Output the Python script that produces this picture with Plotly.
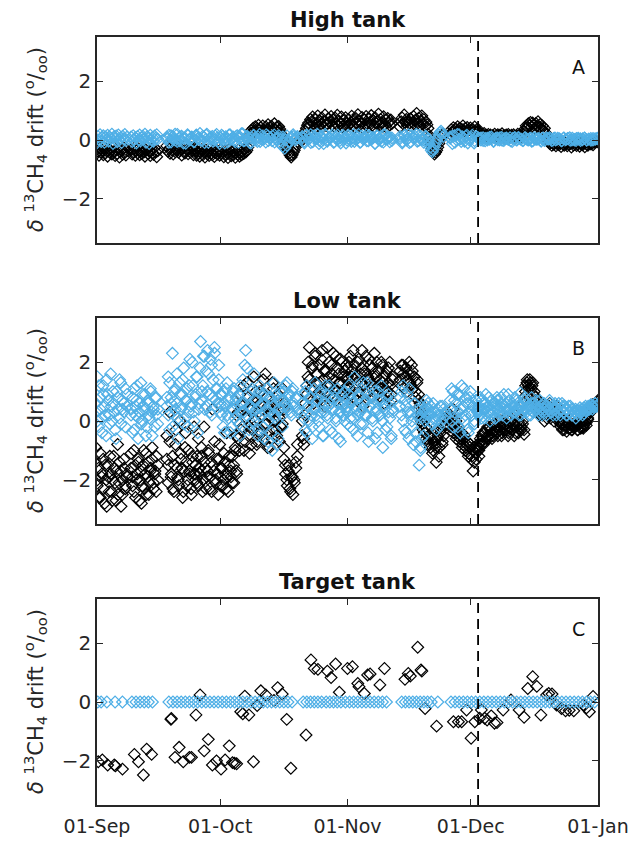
import numpy as np
import pandas as pd
import plotly.graph_objects as go

BASE = pd.Timestamp("2015-09-01")
END = pd.Timestamp("2016-01-01")
tick_dates = ["2015-09-01", "2015-10-01", "2015-11-01", "2015-12-01", "2016-01-01"]
tick_labels = ["01-Sep", "01-Oct", "01-Nov", "01-Dec", "01-Jan"]
event_day = 92.8  # dashed line (days after 01-Sep)

panel_titles = ["High tank", "Low tank", "Target tank"]
panel_letters = ["A", "B", "C"]

# ---- High tank: (start day, end day, drift values) ----
high_black = [
    (-0.3, 7.3, [-0.30, -0.45, -0.38, -0.52, -0.28, -0.41, -0.35, -0.50, -0.25, -0.44, -0.37, -0.55, -0.31, -0.42,
                 -0.36, -0.48, -0.22, -0.40, -0.53, -0.33, -0.46, -0.29, -0.58, -0.39, -0.34, -0.49, -0.27, -0.43,
                 -0.51, -0.36]),
    (8.3, 14.8, [-0.33, -0.48, -0.40, -0.27, -0.52, -0.36, -0.44, -0.30, -0.50, -0.39, -0.46, -0.29, -0.41, -0.55,
                 -0.35, -0.24, -0.47, -0.38, -0.53, -0.31, -0.43, -0.49, -0.26, -0.40, -0.57, -0.37]),
    (17.0, 24.0, [-0.20, -0.38, -0.30, -0.45, -0.25, -0.35, -0.48, -0.28, -0.40, -0.33, -0.22, -0.42, -0.36, -0.30,
                  -0.51, -0.27, -0.39, -0.44, -0.18, -0.34, -0.47, -0.31, -0.41, -0.26, -0.37, -0.50, -0.29, -0.35]),
    (24.0, 37.0, [-0.38, -0.52, -0.30, -0.45, -0.55, -0.40, -0.33, -0.50, -0.42, -0.58, -0.35, -0.47, -0.40, -0.53,
                  -0.30, -0.45, -0.50, -0.38, -0.56, -0.43, -0.35, -0.48, -0.40, -0.52, -0.33, -0.45, -0.41, -0.57,
                  -0.36, -0.49, -0.44, -0.60, -0.32, -0.46, -0.54, -0.39, -0.51, -0.37, -0.59, -0.42, -0.48, -0.34,
                  -0.55, -0.43, -0.50, -0.38, -0.46, -0.29, -0.41, -0.35, -0.25, -0.15]),
    (37.0, 44.5, [0.05, 0.20, 0.32, 0.25, 0.40, 0.30, 0.45, 0.28, 0.38, 0.50, 0.33, 0.42, 0.30, 0.48, 0.36, 0.26,
                  0.44, 0.35, 0.52, 0.29, 0.40, 0.47, 0.31, 0.39, 0.55, 0.34, 0.43, 0.28, 0.46, 0.37]),
    (44.5, 48.8, [0.30, 0.22, 0.12, 0.05, -0.05, -0.12, -0.22, -0.30, -0.38, -0.45, -0.52, -0.58, -0.50, -0.42,
                  -0.35, -0.25, -0.15, -0.05]),
    (50.0, 71.8, [0.0, 0.10, 0.20, 0.30, 0.40, 0.50, 0.58, 0.45, 0.70, 0.62, 0.78, 0.55, 0.40, 0.70, 0.58, 0.82,
                  0.48, 0.65, 0.53, 0.75, 0.44, 0.62, 0.85, 0.50, 0.57, 0.72, 0.42, 0.60, 0.80, 0.52, 0.68, 0.46,
                  0.74, 0.55, 0.84, 0.49, 0.63, 0.57, 0.78, 0.45, 0.66, 0.52, 0.76, 0.58, 0.47, 0.70, 0.54, 0.60,
                  0.81, 0.50, 0.67, 0.43, 0.73, 0.59, 0.86, 0.48, 0.64, 0.55, 0.77, 0.41, 0.69, 0.53, 0.80, 0.57,
                  0.46, 0.72, 0.61, 0.83, 0.50, 0.66, 0.44, 0.75, 0.56, 0.62, 0.88, 0.49, 0.70, 0.58, 0.45, 0.79,
                  0.54, 0.67, 0.42, 0.73, 0.60, 0.51, 0.68, 0.56]),
    (73.8, 80.6, [0.45, 0.62, 0.75, 0.55, 0.85, 0.60, 0.70, 0.50, 0.66, 0.58, 0.72, 0.48, 0.60, 0.80, 0.53, 0.68,
                  0.90, 0.57, 0.74, 0.49, 0.63, 0.82, 0.56, 0.69, 0.47, 0.61, 0.52, 0.40]),
    (80.6, 84.3, [0.20, 0.10, -0.05, -0.15, -0.28, -0.40, -0.48, -0.42, -0.35, -0.25, -0.12, 0.0, 0.08, 0.15, 0.20]),
    (86.0, 93.0, [0.20, 0.35, 0.28, 0.42, 0.30, 0.38, 0.25, 0.45, 0.33, 0.40, 0.27, 0.36, 0.48, 0.31, 0.39, 0.29,
                  0.43, 0.34, 0.26, 0.41, 0.32, 0.37, 0.24, 0.44, 0.30, 0.35, 0.28, 0.33]),
    (93.0, 104.0, [0.15, 0.20, 0.12, 0.18, 0.10, 0.22, 0.14, 0.16, 0.08, 0.19, 0.13, 0.17, 0.10, 0.15, 0.12, 0.20,
                   0.09, 0.14, 0.18, 0.11, 0.16, 0.13, 0.21, 0.10, 0.15, 0.07, 0.17, 0.12, 0.19, 0.14, 0.09, 0.16,
                   0.11, 0.18, 0.13, 0.08, 0.15, 0.20, 0.12, 0.17, 0.10, 0.14, 0.18, 0.22]),
    (104.0, 110.0, [0.28, 0.38, 0.48, 0.42, 0.55, 0.50, 0.60, 0.45, 0.58, 0.52, 0.40, 0.56, 0.47, 0.62, 0.43, 0.53,
                    0.38, 0.48, 0.33, 0.40, 0.25, 0.18, 0.10, 0.02]),
    (110.0, 121.8, [-0.05, -0.12, -0.08, -0.18, -0.10, -0.15, -0.06, -0.20, -0.12, -0.09, -0.16, -0.11, -0.22,
                    -0.08, -0.14, -0.18, -0.10, -0.13, -0.20, -0.07, -0.15, -0.11, -0.24, -0.09, -0.17, -0.12,
                    -0.06, -0.19, -0.14, -0.10, -0.21, -0.13, -0.08, -0.16, -0.11, -0.23, -0.09, -0.15, -0.18,
                    -0.12, -0.07, -0.14, -0.10, -0.16, -0.08, -0.05, -0.02, -0.06]),
]
high_blue = [
    (-0.3, 7.3, [0.05, -0.10, 0.12, 0.0, 0.18, -0.05, 0.08, 0.15, -0.08, 0.10, 0.02, 0.16, -0.04, 0.09, 0.06, 0.20,
                 -0.12, 0.11, 0.03, 0.14, -0.06, 0.17, 0.01, 0.07, -0.09, 0.13, 0.04, 0.19, -0.02, 0.10]),
    (8.3, 14.8, [0.10, -0.05, 0.15, 0.02, 0.08, -0.10, 0.12, 0.0, 0.17, -0.03, 0.07, 0.13, 0.04, 0.20, -0.08, 0.11,
                 0.05, -0.12, 0.16, 0.01, 0.09, -0.04, 0.14, 0.06, 0.18, 0.03]),
    (17.0, 48.8, [0.10, -0.08, 0.15, 0.02, 0.20, -0.05, 0.08, 0.12, -0.10, 0.05, 0.18, 0.0, 0.10, -0.06, 0.14,
                  0.03, 0.22, -0.02, 0.09, 0.16, -0.08, 0.06, 0.12, 0.0, 0.19, -0.04, 0.08, 0.13, -0.10, 0.04,
                  0.17, 0.02, 0.10, -0.06, 0.15, 0.05, 0.21, -0.03, 0.08, 0.12, -0.09, 0.06, 0.16, 0.0, 0.11,
                  -0.05, 0.14, 0.04, 0.18, -0.02, 0.09, 0.13, -0.07, 0.05, 0.15, 0.01, 0.10, 0.0, 0.14, -0.06,
                  0.05, 0.12, 0.0, 0.08]),
    (17.0, 48.8, [0.04, 0.16, -0.07, 0.11, 0.0, 0.19, -0.03, 0.13, 0.06, -0.11, 0.15, 0.02, 0.09, -0.05, 0.17,
                  0.07, -0.01, 0.12, -0.09, 0.20, 0.03, 0.10, -0.04, 0.14, 0.08, -0.12, 0.16, 0.01, 0.11, -0.06,
                  0.18, 0.05, 0.0, 0.13, -0.08, 0.09, 0.21, -0.02, 0.12, 0.04, -0.10, 0.15, 0.07, -0.05, 0.19,
                  0.02, 0.10, -0.07, 0.14, 0.06, -0.03, 0.17, 0.01, 0.08, -0.12, -0.22, -0.28, -0.18, -0.05, 0.10,
                  0.18, 0.06, 0.12]),
    (50.0, 71.8, [0.08, -0.10, 0.15, 0.02, 0.18, -0.06, 0.10, 0.05, -0.12, 0.14, 0.0, 0.20, -0.04, 0.09, 0.12,
                  -0.08, 0.06, 0.17, -0.02, 0.11, 0.04, -0.10, 0.16, 0.01, 0.08, -0.05, 0.13, 0.19, -0.07, 0.05,
                  0.10, -0.03, 0.15, 0.02, 0.09, -0.11, 0.12, 0.06, -0.04, 0.18, 0.03, 0.10, -0.06, 0.07]),
    (50.0, 71.8, [0.12, -0.04, 0.17, 0.03, -0.09, 0.14, 0.06, 0.20, -0.02, 0.10, -0.12, 0.15, 0.01, 0.08, 0.18,
                  -0.06, 0.11, 0.04, -0.10, 0.16, 0.07, 0.0, 0.13, -0.05, 0.19, 0.02, 0.09, -0.08, 0.14, 0.05,
                  0.17, -0.03, 0.10, 0.06, -0.11, 0.15, 0.0, 0.12, -0.07, 0.18, 0.04, 0.09, -0.02]),
    (73.8, 80.6, [0.05, -0.10, 0.14, 0.0, 0.18, -0.06, 0.09, 0.12, -0.04, 0.16, 0.02, -0.08, 0.10, 0.04]),
    (73.8, 80.6, [0.12, -0.05, 0.17, 0.03, -0.09, 0.15, 0.06, 0.20, -0.02, 0.11, 0.0, 0.14, -0.07]),
    (80.6, 84.3, [0.0, -0.12, -0.25, -0.35, -0.40, -0.32, -0.22, -0.12, -0.02, 0.08, 0.18, 0.26, 0.30, 0.22, 0.12]),
    (86.0, 93.0, [0.10, -0.12, 0.15, 0.0, 0.18, -0.05, 0.08, 0.13, -0.10, 0.05, 0.16, -0.02, 0.10, 0.04]),
    (86.0, 93.0, [0.06, 0.14, -0.08, 0.19, 0.02, 0.11, -0.04, 0.16, 0.0, 0.09, -0.10, 0.13, 0.05]),
    (93.0, 121.8, [0.05, 0.0, 0.08, -0.03, 0.06, 0.02, 0.10, -0.04, 0.04, 0.07, 0.0, 0.09, -0.02, 0.05, 0.03,
                   0.08, -0.05, 0.06, 0.01, 0.09, 0.03, -0.02, 0.07, 0.04, 0.0, 0.06, -0.03, 0.08, 0.02, 0.05,
                   -0.04, 0.07, 0.01, 0.04, 0.08, -0.02, 0.05, 0.0, 0.06, 0.03, -0.03, 0.07, 0.02, 0.04, -0.01,
                   0.06, 0.0, 0.05, 0.03, -0.02, 0.04, 0.06, 0.01, 0.03, -0.01, 0.05, 0.02, 0.04]),
    (93.0, 121.8, [0.02, 0.07, -0.02, 0.05, 0.0, 0.09, 0.03, -0.04, 0.06, 0.01, 0.08, -0.01, 0.04, 0.07, 0.02,
                   -0.03, 0.05, 0.09, 0.0, 0.06, 0.03, -0.02, 0.08, 0.01, 0.05, -0.04, 0.07, 0.02, 0.04, 0.0,
                   0.06, -0.02, 0.08, 0.03, 0.05, -0.01, 0.07, 0.02, 0.04, -0.03, 0.06, 0.01, 0.05, 0.08, 0.0,
                   0.03, -0.02, 0.06, 0.04, 0.01, 0.07, -0.01, 0.03, 0.05, 0.0, 0.04, 0.06]),
]

# ---- Low tank ----
low_black = [
    (-0.3, 7.3, [-0.9, -2.2, -1.6, -2.6, -1.9, -1.3, -2.8, -2.0, -1.5, -2.4, -1.8, -2.7, -1.2, -2.1, -1.7, -2.5,
                 -1.4, -2.9, -2.0, -1.6, -2.3, -1.8]),
    (-0.3, 7.3, [-1.4, -2.0, -2.6, -1.1, -1.8, -2.3, -1.5, -2.9, -1.9, -1.2, -2.4, -2.0, -1.6, -2.7, -0.8, -2.1,
                 -1.7, -2.5, -1.3, -2.2, -1.9]),
    (8.3, 14.8, [-1.1, -1.9, -2.4, -1.5, -2.0, -1.3, -2.7, -1.7, -2.2, -1.0, -1.8, -2.5, -1.4, -2.1, -1.6, -0.9,
                 -2.3, -1.7, -1.2, -2.0]),
    (8.3, 14.8, [-1.6, -2.2, -1.0, -2.6, -1.8, -1.4, -2.0, -2.8, -1.5, -2.3, -1.1, -1.9, -2.5, -1.7, -1.3, -2.1,
                 -1.8, -2.4, -1.5]),
    (17.0, 24.0, [-0.5, -1.5, 0.3, -1.9, -1.2, -2.4, -0.8, -1.6, -2.0, 0.0, -1.3, -2.6, -1.7, -0.4, -2.2, -1.0,
                  -1.8, -2.5, -1.4, -0.2, -2.0]),
    (17.0, 24.0, [-1.3, -2.1, -0.7, -1.8, -2.3, -1.5, -0.3, -1.9, -2.2, -1.1, -1.6, -2.4, -0.9, -1.4, -2.0, -1.7,
                  -2.3, -1.2, -1.8, -1.5]),
    (24.0, 34.0, [-1.5, -2.1, -0.6, -1.8, -1.2, -2.4, -0.2, -1.6, -1.9, -1.0, -2.3, -1.4, 0.4, -1.7, -2.0, -1.3,
                  -2.5, -0.8, -1.6, -2.2, -1.1, -1.8, -0.4, -2.4, -1.5, -1.9, -1.2, -2.1, -0.9, -1.7]),
    (24.0, 34.0, [-1.8, -1.2, -2.2, -1.6, -0.9, -2.0, -1.4, -2.3, -1.7, -1.1, -1.9, -2.4, -1.5, -0.7, -2.1, -1.8,
                  -1.3, -2.2, -1.6, -2.0, -1.4, -2.3, -1.9, -1.2, -1.7, -2.1, -1.5, -1.0, -1.8]),
    (34.0, 45.5, [-0.5, 0.3, -1.0, 0.6, -0.2, 1.2, -0.7, 0.1, 0.8, -1.1, 0.4, -0.3, 1.5, 0.0, -0.8, 0.7, -0.4,
                  1.0, 0.2, -0.6, 1.6, -0.1, 0.5, -0.9, 0.3, 1.3, -0.3, 0.6, -0.5, 0.9, 0.1, -0.2, 1.1, 0.4]),
    (34.0, 45.5, [0.2, -0.6, 0.9, -0.3, 0.5, -1.0, 0.1, 1.3, -0.5, 0.4, -0.8, 0.7, -0.2, 1.0, -0.7, 0.3, 0.6,
                  -0.4, 1.4, -0.1, 0.8, -0.9, 0.2, 0.5, -0.6, 1.1, 0.0, -0.3, 0.7, -0.7, 0.4, -0.1, 0.6]),
    (45.5, 48.8, [-0.9, -1.5, -2.0, -1.7, -2.3, -1.9, -2.5, -2.1, -1.6, -1.2]),
    (45.5, 48.8, [-1.3, -1.8, -2.2, -1.5, -2.4, -1.9, -2.0, -1.4, -0.8]),
    (50.0, 61.0, [-0.5, -0.8, 0.2, 0.9, 1.5, 2.5, 1.1, 1.8, 0.6, 2.2, 1.3, 0.8, 1.9, 1.0, 2.4, 1.4, 0.5, 1.7,
                  1.2, 2.0, 0.9, 1.6, 2.3, 1.1, 0.7, 1.8, 1.3, 2.1, 1.0, 1.5, 0.6, 1.9, 1.2]),
    (50.0, 61.0, [0.0, -0.6, 0.6, 1.2, 2.0, 1.4, 0.8, 1.9, 1.1, 2.3, 1.6, 0.9, 1.3, 2.1, 0.7, 1.7, 1.0, 2.5,
                  1.5, 1.2, 1.9, 0.8, 1.4, 2.2, 1.0, 1.6, 1.3, 2.0, 0.9, 1.7, 1.1, 1.5]),
    (61.0, 72.0, [1.4, 2.0, 0.9, 1.7, 2.4, 1.1, 1.5, 0.7, 2.1, 1.3, 1.8, 0.5, 1.6, 2.2, 1.0, 1.4, 1.9, 0.8, 1.2,
                  2.3, 1.5, 0.9, 1.7, 1.1, 2.0, 1.3, 0.6, 1.6, 1.0, 1.8, 1.2, 0.7, 1.4]),
    (61.0, 72.0, [1.8, 1.1, 2.2, 1.5, 0.8, 1.9, 1.3, 2.0, 1.0, 1.6, 2.4, 1.2, 1.7, 0.9, 1.5, 2.1, 1.3, 1.8, 1.0,
                  1.6, 2.0, 1.2, 1.4, 0.8, 1.9, 1.5, 1.1, 1.7, 1.3, 2.0, 0.9, 1.5]),
    (73.8, 79.0, [1.7, 1.2, 1.9, 1.5, 1.8, 1.0, 1.6, 1.3, 1.9, 1.1, 1.5, 0.8, 1.4, 0.9, 0.6, 0.3]),
    (73.8, 79.0, [1.4, 1.9, 1.6, 1.1, 1.8, 1.4, 2.0, 1.2, 1.7, 1.5, 1.0, 1.3, 0.7, 0.5, 0.1]),
    (79.0, 84.8, [0.2, -0.1, -0.4, -0.2, -0.7, -0.5, -0.9, -0.6, -1.0, -0.8, -1.4, -0.5, -0.9, -0.3, -0.7, -0.2, 0.1]),
    (79.0, 84.8, [0.0, -0.3, 0.1, -0.6, -0.3, -0.8, -0.5, -1.1, -0.7, -0.9, -0.6, -1.2, -0.4, -0.8, -0.5, -0.1]),
    (86.0, 93.0, [0.2, -0.1, 0.4, -0.3, 0.0, -0.5, -0.2, -0.6, -0.4, -0.8, -0.5, -0.9, -0.7, -1.1, -0.8, -1.2,
                  -1.7, -0.9, -1.3, -1.0, -0.8]),
    (86.0, 93.0, [-0.2, 0.1, -0.4, -0.1, -0.6, -0.3, -0.7, -0.5, -0.9, -0.6, -1.0, -0.8, -1.2, -0.9, -1.3, -1.0,
                  -1.4, -1.1, -0.9, -1.2]),
    (93.0, 104.0, [-0.9, -0.6, -0.8, -0.4, -0.7, -0.3, -0.5, -0.6, -0.2, -0.4, -0.5, -0.1, -0.3, -0.4, 0.0, -0.2,
                   -0.5, -0.1, -0.3, 0.1, -0.2, -0.4, 0.0, -0.3, -0.1, -0.5, 0.2, -0.2, -0.4, -0.1, -0.3, 0.0, -0.45]),
    (93.0, 104.0, [-1.0, -0.7, -0.5, -0.8, -0.4, -0.6, -0.2, -0.5, -0.3, -0.6, -0.1, -0.4, -0.2, -0.5, -0.3, 0.0,
                   -0.4, -0.2, -0.1, -0.3, -0.5, -0.2, 0.1, -0.3, -0.1, -0.4, -0.2, 0.0, -0.3, -0.2, -0.1, -0.3]),
    (104.0, 107.5, [0.6, 1.0, 1.3, 1.2, 1.4, 1.1, 1.3, 1.0, 0.8, 0.6, 0.4]),
    (104.0, 107.5, [0.8, 1.2, 1.4, 1.1, 1.3, 1.2, 0.9, 0.7, 0.5, 0.3]),
    (107.5, 113.0, [0.5, 0.3, 0.6, 0.2, 0.4, 0.5, 0.1, 0.3, 0.6, 0.2, 0.4, 0.0, 0.3, 0.5, 0.1, 0.2, 0.0]),
    (107.5, 113.0, [0.4, 0.2, 0.5, 0.3, 0.0, 0.4, 0.2, 0.5, 0.1, 0.3, 0.4, 0.1, 0.2, 0.3, 0.0, -0.1]),
    (113.0, 119.5, [-0.1, -0.3, 0.0, -0.2, -0.35, -0.1, -0.25, 0.05, -0.3, -0.15, -0.2, 0.0, -0.3, -0.1, -0.25,
                    -0.05, -0.2, 0.0, -0.15, 0.1]),
    (113.0, 119.5, [-0.2, -0.05, -0.3, -0.15, 0.0, -0.25, -0.1, -0.3, -0.2, 0.05, -0.15, -0.3, -0.1, -0.2, 0.0,
                    -0.25, -0.1, -0.05, 0.05]),
    (119.5, 122.0, [0.2, 0.35, 0.3, 0.5, 0.45, 0.6, 0.55, 0.65]),
    (119.5, 122.0, [0.25, 0.4, 0.35, 0.55, 0.5, 0.6, 0.7]),
]
low_blue = [
    (-0.3, 7.3, [0.3, 1.5, -0.2, 0.8, 0.1, 1.2, 0.5, -0.5, 0.9, 0.2, 1.6, 0.0, 0.6, -0.3, 1.0, 0.4, 1.4, -0.1,
                 0.7, 0.3, 1.1, 0.5]),
    (-0.3, 7.3, [0.6, 0.0, 1.2, 0.4, -0.4, 0.9, 0.2, 1.4, 0.7, -0.1, 0.5, 1.0, 0.3, -0.6, 0.8, 0.1, 1.3, 0.4, 0.6,
                 -0.2, 0.9]),
    (8.3, 14.8, [0.4, -0.4, 1.1, 0.2, 0.7, -0.6, 0.3, 1.3, 0.0, 0.5, 0.9, -0.2, 0.6, 0.1, 1.0, -0.5, 0.4, 0.8,
                 0.2, -0.1]),
    (8.3, 14.8, [0.2, 0.8, -0.3, 0.5, 1.2, 0.1, 0.6, -0.1, 0.9, 0.4, -0.5, 0.7, 0.2, 1.1, 0.3, 0.5, -0.2, 0.8, 0.4]),
    (17.0, 30.0, [0.5, 1.5, -0.3, 0.8, 2.3, 0.2, 1.1, 0.6, -0.6, 1.3, 0.4, 0.9, 1.8, 0.1, 0.7, -0.2, 1.2, 0.5,
                  2.0, 0.3, 0.8, 1.5, -0.4, 0.6, 2.7, 1.0, 2.2, 0.4, 1.7, 2.4, 0.9, 2.1, 0.2, 1.4, 2.3, 0.7, 1.1,
                  1.9, 0.5]),
    (17.0, 30.0, [0.8, 0.2, 1.3, 0.6, -0.2, 1.0, 0.4, 1.6, 0.1, 0.9, 0.5, 1.4, -0.1, 0.7, 1.1, 0.3, 2.1, 0.6, 1.2,
                  0.0, 0.9, 1.5, 0.4, 1.8, 0.7, 1.2, 2.2, 0.5, 1.0, 1.6, 0.3, 1.9, 0.8, 2.5, 1.1, 0.6, 1.4, 0.9]),
    (30.0, 45.5, [0.6, 0.2, 1.0, -0.4, 0.5, 1.3, 0.1, 0.8, -0.2, 0.4, 1.1, 0.7, 0.0, 0.9, -0.5, 0.6, 1.4, 0.3,
                  2.4, 1.8, 0.5, -0.1, 1.0, 0.4, 1.6, 0.2, 0.7, -0.3, 1.2, 0.5, 0.9, -0.6, 0.3, 1.1, 0.0, 0.8,
                  -0.4, 0.6, 1.3, 0.2, -0.8, 0.7, 0.4, 1.0, -0.2, 0.5]),
    (30.0, 45.5, [0.3, 0.9, -0.2, 0.6, 1.1, 0.2, 0.7, -0.4, 0.4, 1.0, 0.1, 0.8, 0.5, -0.1, 1.2, 0.3, 0.6, 1.9, 0.2,
                  0.9, -0.3, 0.5, 1.1, 0.0, 0.7, 0.4, -0.5, 1.0, 0.2, 0.6, -0.2, 0.9, 0.4, -0.7, 0.3, 0.8, -1.0,
                  0.5, 0.1, 0.9, -0.6, 0.4, 0.7, 0.2, 1.0]),
    (45.5, 48.8, [1.0, 0.6, 1.3, 0.4, 0.9, 0.2, 1.1, 0.5, 0.8, 0.3]),
    (45.5, 48.8, [0.7, 1.2, 0.5, 0.9, 0.3, 1.0, 0.6, 0.8, 0.4]),
    (50.0, 61.0, [0.3, 0.9, -0.3, 1.2, 0.5, 0.0, 0.8, -0.6, 0.4, 1.3, 0.2, 0.7, -0.2, 1.0, 0.5, -0.5, 0.3, 0.9,
                  0.1, 1.2, 0.6, -0.4, 0.4, 0.8, 0.0, 1.1, 0.3, -0.7, 0.6, 0.2, 1.0, 0.4, -0.1]),
    (50.0, 61.0, [0.6, 0.1, 1.0, -0.4, 0.5, 0.8, 0.2, -0.2, 1.1, 0.4, 0.7, 0.0, 0.9, 0.3, -0.5, 0.6, 1.2, 0.2, 0.5,
                  -0.3, 0.8, 0.4, 1.0, 0.1, 0.6, -0.6, 0.3, 0.9, 0.5, 0.0, 0.7, 0.3]),
    (61.0, 72.0, [0.5, 1.2, -0.2, 0.7, 0.1, 1.5, 0.4, -0.5, 0.9, 0.3, 1.1, -0.1, 0.6, 0.2, 1.3, -0.7, 0.5, 0.8,
                  0.0, 1.0, 0.3, -0.4, 0.7, 0.2, 1.2, -0.9, 0.4, 0.6, -0.2, 0.9, 0.1, -0.6, 0.3]),
    (61.0, 72.0, [0.3, 0.9, 0.1, 0.6, -0.3, 1.1, 0.5, 0.2, 0.8, -0.1, 0.4, 1.3, 0.2, 0.7, -0.4, 0.5, 0.9, 0.1, 0.6,
                  -0.6, 0.4, 1.0, 0.2, 0.7, 0.0, 0.5, -0.3, 0.8, 0.3, 0.6, -0.5, 0.4]),
    (73.8, 80.6, [0.8, 0.2, 1.2, -0.3, 0.5, 0.9, -0.6, 0.3, 0.0, -0.8, 0.6, -0.4, 0.2, -1.5, -0.9, 0.1, -0.5,
                  0.4, 0.7, 0.3]),
    (73.8, 80.6, [0.5, 1.0, 0.0, 0.7, -0.4, 0.3, 1.1, 0.2, -0.2, 0.6, -0.7, 0.4, 0.1, -1.0, -0.6, 0.3, 0.0, 0.5, 0.2]),
    (80.6, 84.8, [0.6, 0.2, 0.5, -0.1, 0.3, 0.0, 0.4, -0.2, 0.2, 0.5, 0.1, 0.3]),
    (80.6, 84.8, [0.4, 0.0, 0.3, 0.6, 0.1, -0.3, 0.2, 0.5, 0.0, 0.4, 0.2]),
    (86.0, 93.0, [0.4, 1.1, -0.2, 0.7, 0.1, 0.9, 0.3, -0.4, 1.2, 0.5, 0.0, 0.8, -0.3, 0.6, 1.0, 0.2, 0.5, -0.1,
                  0.7, 0.3, 0.4]),
    (86.0, 93.0, [0.7, 0.0, 1.0, 0.3, 0.6, -0.2, 0.9, 0.4, 0.1, 1.1, 0.2, 0.6, -0.4, 0.8, 0.3, 0.5, 0.0, 0.7, 0.4, 0.2]),
    (93.0, 122.0, [0.3, 0.8, 0.1, 0.6, 0.4, 0.9, 0.2, 0.5, 0.0, 0.7, 0.3, 0.6, 0.1, 0.8, 0.4, 0.2, 0.6, 0.3,
                   0.9, 0.5, 0.1, 0.4, 0.7, 0.2, 0.5, 0.3, 0.8, 0.4, 0.6, 0.2, 0.95, 0.5, 0.3, 0.7, 0.4, 0.6,
                   0.2, 0.5, 0.8, 0.3, 0.6, 0.4, 0.5, 0.2, 0.7, 0.4, 0.3, 0.6, 0.5, 0.2, 0.4, 0.7, 0.3, 0.5,
                   0.4, 0.6, 0.2, 0.5, 0.3, 0.4, 0.6, 0.3, 0.5, 0.2, 0.4, 0.3, 0.5, 0.2, 0.4, 0.3, 0.1, 0.35,
                   0.2, 0.45, 0.3, 0.4, 0.25, 0.5, 0.35, 0.45, 0.4, 0.55, 0.5, 0.45, 0.6, 0.5, 0.55]),
    (93.0, 122.0, [0.5, 0.2, 0.7, 0.4, 0.1, 0.6, 0.3, 0.8, 0.4, 0.2, 0.6, 0.5, 0.1, 0.7, 0.3, 0.5, 0.8, 0.2, 0.4,
                   0.6, 0.3, 0.9, 0.4, 0.2, 0.6, 0.5, 0.3, 0.7, 0.4, 0.5, 0.2, 0.6, 0.4, 0.8, 0.3, 0.5, 0.4, 0.2,
                   0.6, 0.3, 0.5, 0.7, 0.4, 0.3, 0.5, 0.2, 0.6, 0.4, 0.3, 0.5, 0.4, 0.6, 0.3, 0.2, 0.5, 0.4, 0.3,
                   0.6, 0.2, 0.4, 0.5, 0.3, 0.4, 0.2, 0.5, 0.3, 0.4, 0.2, 0.3, 0.4, 0.25, 0.35, 0.3, 0.4, 0.2,
                   0.45, 0.35, 0.4, 0.5, 0.45, 0.55, 0.4, 0.5, 0.6, 0.5, 0.55]),
]

# ---- Target tank (day after 01-Sep, drift) ----
target_black_days = [0.3, 1.3, 2.6, 4.2, 4.5, 6.2, 9.1, 10.1, 11.3, 12.1, 13.3, 18.0, 18.1, 19.0, 20.0, 21.0,
                     22.5, 23.0, 24.1, 25.1, 26.1, 27.1, 28.1, 29.1, 30.2, 31.2, 32.2, 33.0, 33.5, 34.0, 35.0,
                     35.5, 36.0, 37.0, 38.1, 39.0, 39.9, 41.1, 43.1, 44.0, 45.1, 46.2, 47.2, 50.9, 52.1, 52.9,
                     53.8, 56.1, 57.0, 58.1, 59.0, 61.0, 62.2, 63.5, 63.8, 65.1, 65.9, 66.5, 68.9, 70.0, 75.0,
                     75.8, 76.3, 78.1, 78.9, 79.1, 79.9, 82.7, 86.8, 88.0, 88.8, 90.0, 91.1, 92.0, 93.2, 93.6,
                     94.4, 95.0, 96.0, 96.8, 97.4, 98.9, 100.8, 102.8, 104.0, 104.9, 106.1, 107.1, 108.1, 109.5,
                     110.0, 110.8, 111.9, 113.1, 114.1, 115.0, 116.1, 118.4, 119.2, 119.9, 120.8]
target_black_vals = [-2.03, -1.97, -2.14, -2.14, -2.17, -2.28, -1.78, -2.03, -2.48, -1.60, -1.78, -0.59, -0.56,
                     -1.88, -1.54, -2.03, -1.88, -1.88, -0.44, 0.24, -1.66, -1.27, -2.14, -2.0, -2.28, -1.97,
                     -1.49, -2.06, -2.08, -2.10, -0.33, -0.40, 0.20, -0.44, -2.03, -0.12, 0.38, 0.24, 0.05, 0.49,
                     0.27, -0.59, -2.25, -1.12, 1.43, 1.14, 1.11, 1.05, 0.83, 1.29, 0.33, 1.14, 1.20, 0.63, 0.52,
                     0.29, 0.92, 0.95, 0.58, 1.14, 0.77, 0.97, 0.88, 1.86, 1.09, 1.05, -0.22, -0.82, -0.67,
                     -0.67, -0.67, -0.27, -1.23, -0.67, -0.55, -0.27, -0.55, -0.61, -0.47, -0.72, -0.70, -0.27,
                     0.07, -0.27, -0.52, 0.46, 0.86, 0.53, -0.44, 0.24, 0.29, 0.27, -0.10, -0.22, -0.30, -0.28,
                     -0.30, -0.10, -0.20, -0.33, 0.19]
target_blue_days = [0.2, 1.0, 2.4, 4.4, 6.2,
                    8.5, 9.5, 10.5, 11.5, 12.5, 13.5,
                    17.5, 18.5, 19.5, 20.5, 21.5, 22.5, 23.5, 24.5, 25.5, 26.5, 27.5, 28.5, 29.5, 30.5, 31.5,
                    32.5, 33.5, 34.5, 35.5, 36.5, 37.5, 38.5, 39.5, 40.5, 41.5, 42.5, 43.5, 44.5, 45.5, 46.5, 47.5,
                    50.2, 51.1, 52.0, 52.9, 53.8, 54.7,
                    55.8, 56.7, 57.6, 58.5, 59.4,
                    60.5, 61.5, 62.5, 63.5, 64.5, 65.5, 66.5, 67.5, 68.5, 69.5, 70.5,
                    74.2, 75.1, 76.0, 76.9, 77.8, 78.7, 79.6, 80.5, 81.4, 83.0,
                    86.2, 87.2, 88.2, 89.2, 90.2, 91.2, 92.2, 93.2, 94.2, 95.2, 96.2, 97.2, 98.2, 99.2, 100.2,
                    101.2, 102.2, 103.2, 104.2, 105.2, 106.2, 107.2, 108.2, 109.2, 110.2, 111.2, 112.2, 113.2,
                    114.2, 115.2, 116.2, 117.2, 118.2, 119.2, 120.2, 121.2]
target_blue_vals = [0.0] * len(target_blue_days)

BLACK = "#000000"
BLUE = "#4FAFE6"
AX = "#262626"
FONT = "DejaVu Sans"


def to_dates(days):
    return [BASE + pd.Timedelta(days=float(d)) for d in days]


def expand(segments):
    xs, ys = [], []
    for d0, d1, vals in segments:
        xs.extend(np.linspace(d0, d1, len(vals)))
        ys.extend(vals)
    return to_dates(xs), ys


panels = [
    (expand(high_black), expand(high_blue)),
    (expand(low_black), expand(low_blue)),
    ((to_dates(target_black_days), target_black_vals), (to_dates(target_blue_days), target_blue_vals)),
]

# pixel layout of the three boxes
W, H = 635, 842
ML, MR, MT, MB = 97, 37, 37, 37
plot_h = H - MT - MB
boxes_px = [(37, 243), (318, 524), (599, 805)]
domains = [[(H - MB - b) / plot_h, (H - MB - t) / plot_h] for t, b in boxes_px]

fig = go.Figure()
for i, ((bx, by), (ux, uy)) in enumerate(panels):
    sfx = "" if i == 0 else str(i + 1)
    for xs, ys, col in ((bx, by, BLACK), (ux, uy, BLUE)):
        fig.add_trace(go.Scatter(
            x=xs, y=ys, mode="markers", xaxis="x" + sfx, yaxis="y" + sfx,
            marker=dict(symbol="diamond-open", size=9, color=col, line=dict(width=1.2, color=col)),
            showlegend=False, hoverinfo="skip"))

layout = dict(
    width=W, height=H, margin=dict(l=ML, r=MR, t=MT, b=MB, autoexpand=False),
    paper_bgcolor="white", plot_bgcolor="white", showlegend=False,
    font=dict(family=FONT, size=20, color=AX),
)
shapes, annotations = [], []
ytitle = "<i>δ</i> <sup>13</sup>CH<sub>4</sub> drift (<sup>o</sup>/<sub>oo</sub>)"
for i in range(3):
    sfx = "" if i == 0 else str(i + 1)
    layout["xaxis" + sfx] = dict(
        type="date", range=[BASE, END], domain=[0, 1], anchor="y" + sfx,
        tickvals=tick_dates, ticktext=tick_labels, showticklabels=(i == 2),
        ticks="inside", ticklen=6, tickwidth=1, tickcolor=AX, ticklabelstandoff=3, automargin=False,
        showline=True, linecolor=AX, linewidth=1.5, mirror="ticks",
        showgrid=False, zeroline=False, tickfont=dict(size=19, color=AX, family=FONT),
    )
    layout["yaxis" + sfx] = dict(
        range=[-3.5, 3.5], domain=domains[i], anchor="x" + sfx, automargin=False,
        tickvals=[-2, 0, 2], ticks="inside", ticklen=6, tickwidth=1, tickcolor=AX,
        showline=True, linecolor=AX, linewidth=1.5, mirror="ticks",
        showgrid=False, zeroline=False, tickfont=dict(size=20, color=AX, family=FONT),
    )
    shapes.append(dict(type="line", xref="x" + sfx, yref="y" + sfx + " domain",
                       x0=BASE + pd.Timedelta(days=event_day), x1=BASE + pd.Timedelta(days=event_day),
                       y0=0, y1=1, line=dict(color=BLACK, width=1.8, dash="10px,6px")))
    annotations.append(dict(text="<b>" + panel_titles[i] + "</b>", xref="paper", yref="paper",
                            x=0.5, y=domains[i][1], xanchor="center", yanchor="middle", yshift=17,
                            showarrow=False, font=dict(size=21, color="#111111", family=FONT)))
    annotations.append(dict(text=panel_letters[i], xref="x" + sfx + " domain", yref="y" + sfx + " domain",
                            x=0.962, y=1, yshift=-30, xanchor="center", yanchor="middle",
                            showarrow=False, font=dict(size=19, color="#111111", family=FONT)))
    annotations.append(dict(text=ytitle, xref="paper", yref="paper", x=(35 - ML) / (W - ML - MR),
                            y=(domains[i][0] + domains[i][1]) / 2, xanchor="center", yanchor="middle",
                            textangle=-90, showarrow=False, font=dict(size=21, color=AX, family=FONT)))
layout["shapes"] = shapes
layout["annotations"] = annotations
fig.update_layout(**layout)
fig.write_html("out.html")
